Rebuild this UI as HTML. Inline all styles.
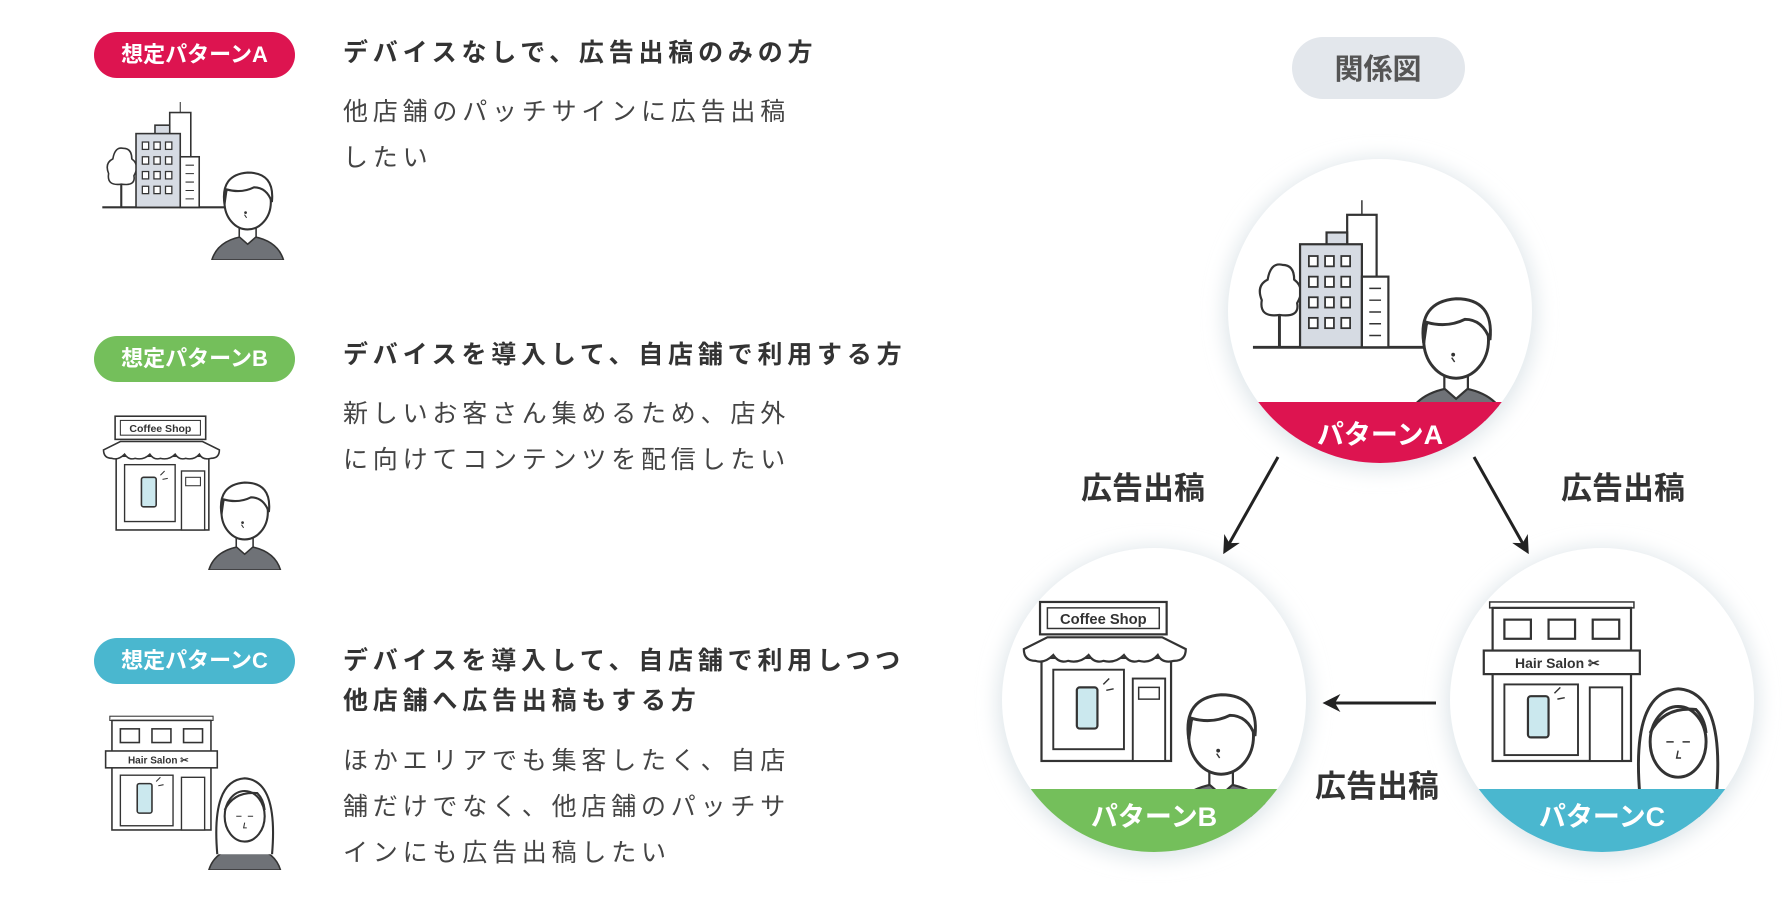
<!DOCTYPE html>
<html><head><meta charset="utf-8">
<style>
*{margin:0;padding:0;box-sizing:border-box}
body{width:1792px;height:908px;background:#fff;position:relative;overflow:hidden;font-family:"Liberation Sans","Noto Sans CJK JP",sans-serif;color:#333}
.badge{position:absolute;left:94px;width:201px;height:46px;border-radius:23px;color:#fff;font-weight:bold;font-size:22px;line-height:46px;text-align:center;letter-spacing:0px}
.h{position:absolute;left:343px;font-weight:bold;font-size:25px;color:#333;line-height:40px;letter-spacing:4.8px;white-space:nowrap}
.p{position:absolute;left:343px;font-size:25px;color:#444;line-height:46px;letter-spacing:4.8px;white-space:nowrap}
svg.ill{position:absolute}
</style></head><body>
<svg width="0" height="0" style="position:absolute">
<defs>
<symbol id="person" viewBox="-40 -40 80 95">
<path d="M-34 55 Q-28 35 0 32 Q28 35 34 55 Z" fill="#6f7277" stroke="#333" stroke-width="1.5"/>
<path d="M-8 20 L-8 33 L0 40 L8 33 L8 20" fill="#fff" stroke="#333" stroke-width="1.5"/>
<ellipse cx="0" cy="0" rx="22" ry="26" fill="#fff" stroke="#333" stroke-width="2"/>
<path d="M-22 2 Q-26 -26 0 -28 Q26 -28 23 0 Q18 -14 6 -14 Q-6 -8 -20 -12 Z" fill="#fff" stroke="#333" stroke-width="2"/>
<circle cx="-2" cy="10" r="1.3" fill="#333"/><path d="M-3 12 L-1 15" stroke="#333"/>
</symbol>
<symbol id="woman" viewBox="-40 -40 80 95">
<path d="M-34 55 Q-28 35 0 32 Q28 35 34 55 Z" fill="#6f7277" stroke="#333" stroke-width="1.5"/>
<path d="M-26 40 Q-32 -30 0 -32 Q32 -30 26 40" fill="#fff" stroke="#333" stroke-width="2"/>
<ellipse cx="0" cy="4" rx="19" ry="24" fill="#fff" stroke="#333" stroke-width="2"/>
<path d="M-19 -2 Q-10 -20 12 -18 Q18 -12 19 -2" fill="none" stroke="#333" stroke-width="2"/>
<path d="M-8 4 L-3 4 M3 4 L8 4 M0 10 L-1 15 L2 15" stroke="#333" fill="none"/>
</symbol>
<symbol id="city" viewBox="0 0 180 150">
<line x1="2" y1="100" x2="120" y2="100" stroke="#333" stroke-width="2"/>
<path d="M20 100 V70" stroke="#333" stroke-width="2"/>
<path d="M20 78 Q6 80 8 68 Q4 58 12 54 Q14 42 22 44 Q30 44 30 54 Q38 60 32 70 Q34 80 20 78Z" fill="#fff" stroke="#333" stroke-width="1.5"/>
<rect x="66" y="10" width="20" height="60" fill="#fff" stroke="#333" stroke-width="1.5"/>
<line x1="76" y1="0" x2="76" y2="10" stroke="#333"/>
<rect x="52" y="22" width="14" height="10" fill="#d6dbe3" stroke="#333" stroke-width="1.5"/>
<rect x="34" y="30" width="42" height="70" fill="#d6dbe3" stroke="#333" stroke-width="1.5"/>
<g fill="#fff" stroke="#333" stroke-width="1.2">
<rect x="40" y="38" width="6" height="7"/><rect x="51" y="38" width="6" height="7"/><rect x="62" y="38" width="6" height="7"/>
<rect x="40" y="52" width="6" height="7"/><rect x="51" y="52" width="6" height="7"/><rect x="62" y="52" width="6" height="7"/>
<rect x="40" y="66" width="6" height="7"/><rect x="51" y="66" width="6" height="7"/><rect x="62" y="66" width="6" height="7"/>
<rect x="40" y="80" width="6" height="7"/><rect x="51" y="80" width="6" height="7"/><rect x="62" y="80" width="6" height="7"/>
</g>
<rect x="76" y="52" width="18" height="48" fill="#fff" stroke="#333" stroke-width="1.5"/>
<path d="M81 60h8M81 68h8M81 76h8M81 84h8M81 92h8" stroke="#333"/>
<use href="#person" x="100" y="55" width="80" height="95"/>
</symbol>
<symbol id="coffee" viewBox="0 0 180 150">
<rect x="17" y="4" width="86" height="22" fill="#fff" stroke="#333" stroke-width="1.5"/>
<rect x="22" y="8" width="76" height="14" fill="#fff" stroke="#333"/>
<text x="60" y="19" font-size="10" font-weight="bold" text-anchor="middle" font-family="Liberation Sans,sans-serif" fill="#333">Coffee Shop</text>
<rect x="18" y="42" width="88" height="70" fill="#fff" stroke="#333" stroke-width="1.5"/>
<path d="M6 36 L22 28 H100 L116 36 Q116 44 108 44 Q100 46 97 40 Q92 46 84 44 Q78 46 74 40 Q68 46 60 44 Q54 46 50 40 Q44 46 36 44 Q30 46 26 40 Q20 46 14 44 Q6 44 6 36Z" fill="#fff" stroke="#333" stroke-width="1.5"/>
<rect x="26" y="50" width="48" height="54" fill="#fff" stroke="#333" stroke-width="1.3"/>
<rect x="42" y="62" width="14" height="28" rx="2" fill="#cbe8ee" stroke="#333" stroke-width="1.5"/>
<path d="M60 60 l4 -4 M62 64 l5 -1" stroke="#333"/>
<rect x="80" y="56" width="22" height="56" fill="#fff" stroke="#333" stroke-width="1.3"/>
<rect x="84" y="62" width="14" height="8" fill="#fff" stroke="#333"/>
<use href="#person" x="100" y="55" width="80" height="95"/>
</symbol>
<symbol id="salon" viewBox="0 0 180 150">
<rect x="12" y="4" width="98" height="4" fill="#fff" stroke="#333"/>
<rect x="14" y="8" width="94" height="104" fill="#fff" stroke="#333" stroke-width="1.5"/>
<rect x="22" y="16" width="18" height="13" fill="#fff" stroke="#333" stroke-width="1.5"/>
<rect x="52" y="16" width="18" height="13" fill="#fff" stroke="#333" stroke-width="1.5"/>
<rect x="82" y="16" width="18" height="13" fill="#fff" stroke="#333" stroke-width="1.5"/>
<rect x="8" y="37" width="106" height="16" fill="#fff" stroke="#333" stroke-width="1.5"/>
<text x="58" y="49" font-size="9.5" font-weight="bold" text-anchor="middle" font-family="Liberation Sans,sans-serif" fill="#333">Hair Salon ✂</text>
<rect x="22" y="60" width="50" height="48" fill="#fff" stroke="#333" stroke-width="1.3"/>
<rect x="38" y="68" width="14" height="28" rx="2" fill="#cbe8ee" stroke="#333" stroke-width="1.5"/>
<path d="M56 66 l4 -4 M58 70 l5 -1" stroke="#333"/>
<rect x="80" y="62" width="22" height="50" fill="#fff" stroke="#333" stroke-width="1.3"/>
<use href="#woman" x="100" y="55" width="80" height="95"/>
</symbol>
<filter id="sh" x="-30%" y="-30%" width="160%" height="160%"><feGaussianBlur stdDeviation="10"/></filter>
<clipPath id="cA"><circle cx="1380" cy="311" r="152"/></clipPath>
<clipPath id="cB"><circle cx="1154" cy="700" r="152"/></clipPath>
<clipPath id="cC"><circle cx="1602" cy="700" r="152"/></clipPath>
<marker id="ar" viewBox="0 0 10 10" refX="8" refY="5" markerWidth="6" markerHeight="6" orient="auto"><path d="M0 0 L10 5 L0 10 L3 5 Z" fill="#222"/></marker>
</defs></svg>

<div class="badge" style="top:32px;background:#dd1450">想定パターンA</div>
<div class="h" style="top:33px">デバイスなしで、広告出稿のみの方</div>
<div class="p" style="top:89px">他店舗のパッチサインに広告出稿<br>したい</div>
<svg class="ill" style="left:100px;top:102px" width="190" height="158" viewBox="0 0 180 150"><use href="#city"/></svg>

<div class="badge" style="top:336px;background:#74bf5b">想定パターンB</div>
<div class="h" style="top:335px">デバイスを導入して、自店舗で利用する方</div>
<div class="p" style="top:391px">新しいお客さん集めるため、店外<br>に向けてコンテンツを配信したい</div>
<svg class="ill" style="left:97px;top:412px" width="190" height="158" viewBox="0 0 180 150"><use href="#coffee"/></svg>

<div class="badge" style="top:638px;background:#4ab7cf">想定パターンC</div>
<div class="h" style="top:641px">デバイスを導入して、自店舗で利用しつつ<br>他店舗へ広告出稿もする方</div>
<div class="p" style="top:738px">ほかエリアでも集客したく、自店<br>舗だけでなく、他店舗のパッチサ<br>インにも広告出稿したい</div>
<svg class="ill" style="left:97px;top:712px" width="190" height="158" viewBox="0 0 180 150"><use href="#salon"/></svg>

<svg style="position:absolute;left:0;top:0" width="1792" height="908">
<rect x="1292" y="37" width="173" height="62" rx="31" fill="#e3e7ec"/>
<text x="1378" y="79" font-size="29" font-weight="bold" text-anchor="middle" fill="#555" font-family="Liberation Sans,Noto Sans CJK JP,sans-serif">関係図</text>

<g fill="#dfe6ea" filter="url(#sh)">
<circle cx="1380" cy="314" r="156"/><circle cx="1154" cy="703" r="156"/><circle cx="1602" cy="703" r="156"/>
</g>
<circle cx="1380" cy="311" r="152" fill="#fff"/>
<circle cx="1154" cy="700" r="152" fill="#fff"/>
<circle cx="1602" cy="700" r="152" fill="#fff"/>

<g clip-path="url(#cA)"><svg x="1250" y="200" width="265" height="221" viewBox="0 0 180 150"><use href="#city"/></svg></g>
<rect x="1200" y="402" width="360" height="70" fill="#dd1450" clip-path="url(#cA)"/>
<g clip-path="url(#cB)"><svg x="1015" y="596" width="265" height="221" viewBox="0 0 180 150"><use href="#coffee"/></svg></g>
<rect x="980" y="789" width="360" height="70" fill="#74bf5b" clip-path="url(#cB)"/>
<g clip-path="url(#cC)"><svg x="1472" y="596" width="265" height="221" viewBox="0 0 180 150"><use href="#salon"/></svg></g>
<rect x="1420" y="789" width="360" height="70" fill="#4ab7cf" clip-path="url(#cC)"/>

<g font-size="27" font-weight="bold" fill="#fff" text-anchor="middle" font-family="Liberation Sans,Noto Sans CJK JP,sans-serif">
<text x="1380" y="444">パターンA</text>
<text x="1154" y="826">パターンB</text>
<text x="1602" y="826">パターンC</text>
</g>

<g stroke="#222" stroke-width="3" fill="none" marker-end="url(#ar)">
<line x1="1278" y1="457" x2="1225" y2="551"/>
<line x1="1474" y1="457" x2="1527" y2="551"/>
<line x1="1436" y1="703" x2="1326" y2="703"/>
</g>
<g font-size="31" font-weight="bold" fill="#333" text-anchor="middle" font-family="Liberation Sans,Noto Sans CJK JP,sans-serif">
<text x="1143" y="499">広告出稿</text>
<text x="1623" y="499">広告出稿</text>
<text x="1377" y="797">広告出稿</text>
</g>
</svg>
</body></html>
